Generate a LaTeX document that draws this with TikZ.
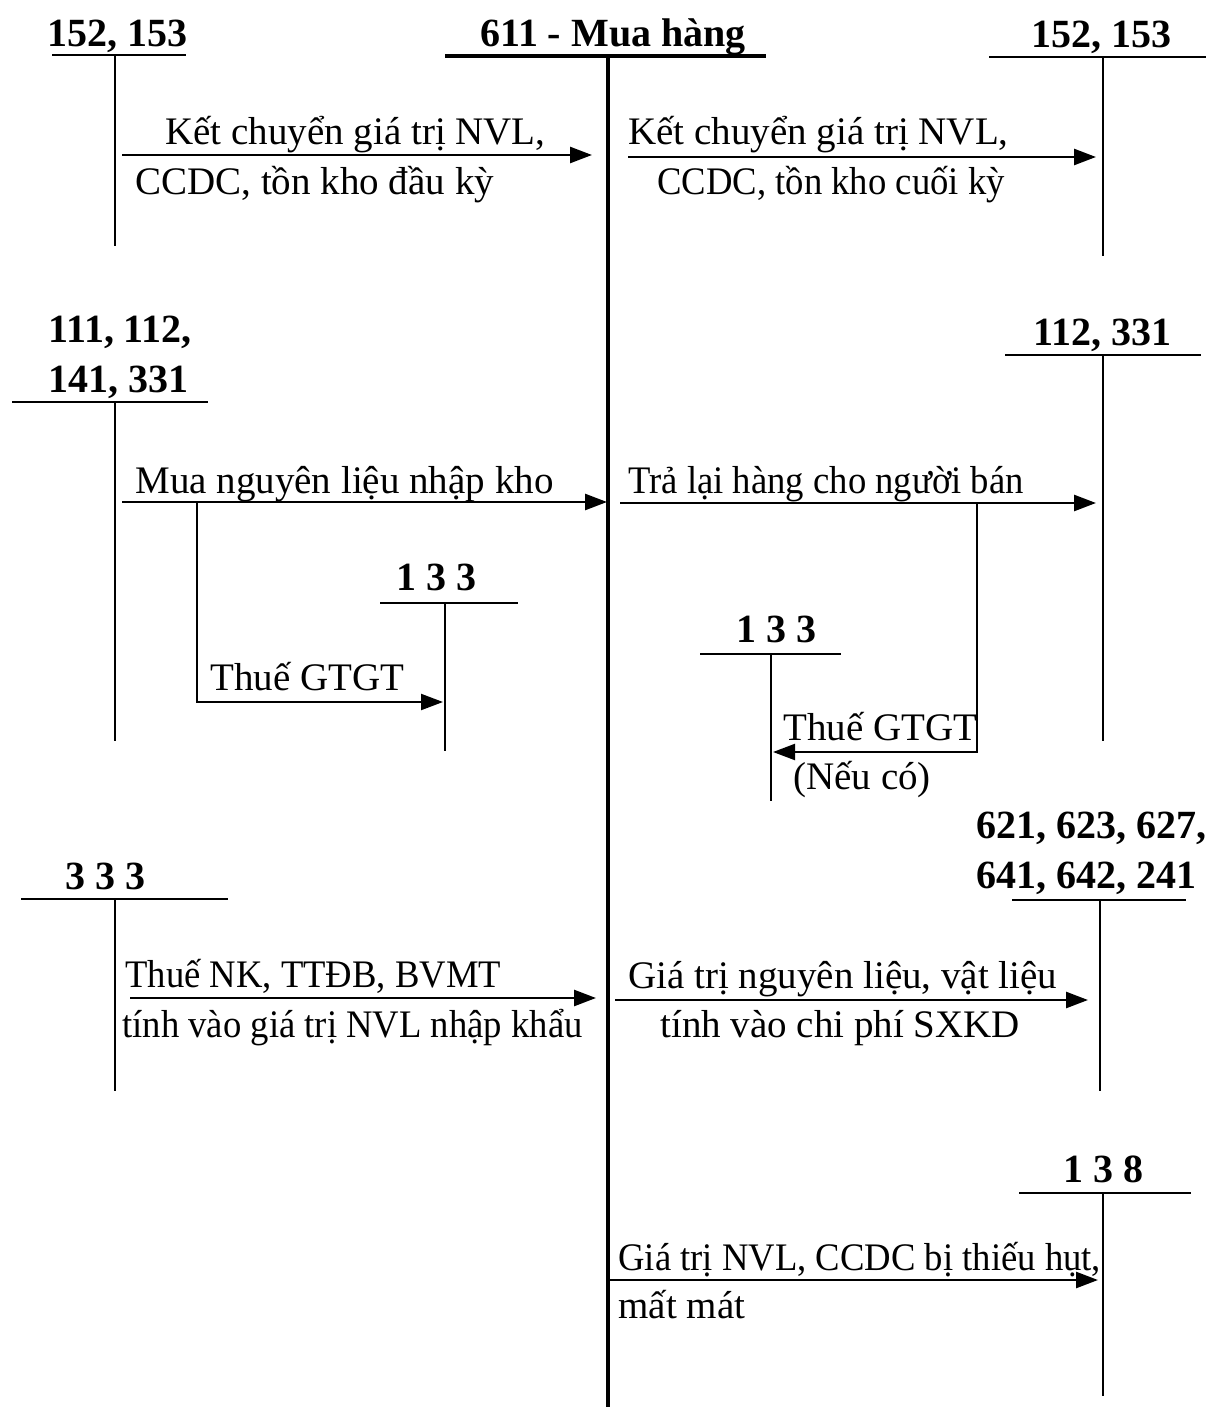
\documentclass[tikz,border=0pt]{standalone}
\usepackage{fontspec}
\setmainfont{Liberation Serif}
\usepackage{graphicx}
\usepackage{tikz}
\usetikzlibrary{arrows.meta,positioning}
\tikzset{
  acct/.style={inner sep=0pt, anchor=base west,
    font=\fontsize{20}{24}\selectfont\bfseries},
  lbl/.style={inner sep=0pt, anchor=base west,
    font=\fontsize{19.5}{23}\selectfont},
  bar/.style={line width=1.1pt, line cap=rect},
  mainbar/.style={line width=1.8pt},
  arr/.style={-{Stealth[length=11pt,width=8pt,inset=0pt]},
    line width=1.3pt}
}
\newcommand\tight[1]{\scalebox{0.94}[1]{#1}}
\begin{document}
\begin{tikzpicture}[x=0.5pt, y=-0.5pt]
  \useasboundingbox (0,0) rectangle (1217,1407);

  % central account 611
  \node[acct, anchor=base] (tk611) at (613,47) {611 - Mua hàng};
  \draw[mainbar] (445,56) -- (766,56);
  \coordinate (tk611t) at (608,56);
  \coordinate (tk611b) at (608,1407);
  \draw[mainbar] (tk611t) -- (tk611b);

  % left accounts
  \node[acct] (tk152a) at (47,47) {152, 153};
  \draw[bar] (53,55) -- (185,55);
  \draw[bar] (115,55) -- (115,245);

  \node[acct] (tk111a) at (48,342) {111, 112,};
  \node[acct] (tk111b) at (48,392) {141, 331};
  \draw[bar] (13,402) -- (207,402);
  \draw[bar] (115,402) -- (115,740);

  \node[acct] (tk133a) at (396,590) {1 3 3};
  \draw[bar] (381,603) -- (517,603);
  \draw[bar] (445,603) -- (445,750);

  \node[acct] (tk333) at (65,889) {3 3 3};
  \draw[bar] (22,899) -- (227,899);
  \draw[bar] (115,899) -- (115,1090);

  % right accounts
  \node[acct] (tk152b) at (1031,48) {152, 153};
  \draw[bar] (990,57) -- (1205,57);
  \draw[bar] (1103,57) -- (1103,255);

  \node[acct] (tk112) at (1033,345) {112, 331};
  \draw[bar] (1006,355) -- (1200,355);
  \draw[bar] (1103,355) -- (1103,740);

  \node[acct] (tk133b) at (736,642) {1 3 3};
  \draw[bar] (701,654) -- (840,654);
  \draw[bar] (771,654) -- (771,800);

  \node[acct] (tk621a) at (976,838) {621, 623, 627,};
  \node[acct] (tk621b) at (976,888) {641, 642, 241};
  \draw[bar] (1013,900) -- (1185,900);
  \draw[bar] (1100,900) -- (1100,1090);

  \node[acct] (tk138) at (1063,1182) {1 3 8};
  \draw[bar] (1020,1193) -- (1190,1193);
  \draw[bar] (1103,1193) -- (1103,1395);

  % arrow end points
  \coordinate (k1s) at (122,155);  \coordinate (k1e) at (592,155);
  \coordinate (k2s) at (628,157);  \coordinate (k2e) at (1096,157);
  \coordinate (m1s) at (122,502);  \coordinate (m1e) at (607,502);
  \coordinate (m1v) at (197,502);  \coordinate (m1t) at (443,702);
  \coordinate (t1s) at (620,503);  \coordinate (t1e) at (1096,503);
  \coordinate (t1v) at (977,503);  \coordinate (t1t) at (773,752);
  \coordinate (n1s) at (130,998);  \coordinate (n1e) at (596,998);
  \coordinate (g1s) at (615,1000); \coordinate (g1e) at (1088,1000);
  \coordinate (h1s) at (608,1280); \coordinate (h1e) at (1098,1280);

  % connectors
  \draw[arr] (k1s) -- (k1e);
  \draw[arr] (k2s) -- (k2e);
  \draw[arr] (m1s) -- (m1e);
  \draw[arr, line width=1.1pt] (m1v) |- (m1t);
  \draw[arr] (t1s) -- (t1e);
  \draw[arr, line width=1.1pt] (t1v) |- (t1t);
  \draw[arr] (n1s) -- (n1e);
  \draw[arr] (g1s) -- (g1e);
  \draw[arr] (h1s) -- (h1e);

  % labels
  \node[lbl] (k1a) at (165,145) {Kết chuyển giá trị NVL,};
  \node[lbl] (k1b) at (135,195) {CCDC, tồn kho đầu kỳ};
  \node[lbl] (k2a) at (628,145) {Kết chuyển giá trị NVL,};
  \node[lbl] (k2b) at (657,195) {\tight{CCDC, tồn kho cuối kỳ}};
  \node[lbl] (m1a) at (135,493) {Mua nguyên liệu nhập kho};
  \node[lbl] (m1b) at (210,690) {Thuế GTGT};
  \node[lbl] (t1a) at (628,493) {\tight{Trả lại hàng cho người bán}};
  \node[lbl] (t1b) at (783,740) {Thuế GTGT};
  \node[lbl] (t1c) at (793,789) {(Nếu có)};
  \node[lbl] (n1a) at (125,987) {\tight{Thuế NK, TTĐB, BVMT}};
  \node[lbl] (n1b) at (122,1037) {\tight{tính vào giá trị NVL nhập khẩu}};
  \node[lbl] (g1a) at (628,988) {Giá trị nguyên liệu, vật liệu};
  \node[lbl] (g1b) at (660,1037) {tính vào chi phí SXKD};
  \node[lbl] (h1a) at (618,1270) {\tight{Giá trị NVL, CCDC bị thiếu hụt,}};
  \node[lbl] (h1b) at (618,1318) {mất mát};
\end{tikzpicture}
\end{document}
